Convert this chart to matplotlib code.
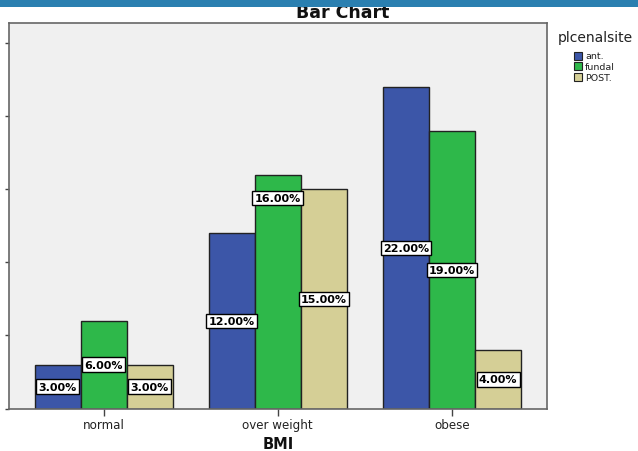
import matplotlib
matplotlib.use("Agg")
import matplotlib.pyplot as plt
from matplotlib.patches import Rectangle
import numpy as np

categories = ["normal", "over weight", "obese"]
series = ["ant.", "fundal", "POST."]
ant = [3.0, 12.0, 22.0]
fundal = [6.0, 16.0, 19.0]
post = [3.0, 15.0, 4.0]
colors = ["#3c56a8", "#2eb84a", "#d5cf96"]
yticks = [0, 5, 10, 15, 20, 25]

W, H = 638, 452
fig = plt.figure(figsize=(W / 100, H / 100), dpi=100)
fig.patch.set_facecolor("white")

def fx(px):
    return px / W

def fy(py):
    return 1 - py / H

ax = fig.add_axes([fx(9), fy(409.5), (547 - 9) / W, (409.5 - 24) / H])
ax.set_facecolor("#f0f0f0")

x = np.arange(len(categories))
width = 0.264
values = [ant, fundal, post]
box_h = 1.15  # approx label box height in data units

label_style = dict(ha="center", va="center", fontsize=8, fontweight="bold",
                   family="DejaVu Sans", color="black", zorder=5,
                   bbox=dict(boxstyle="square,pad=0.2", facecolor="white",
                             edgecolor="black", linewidth=1.0))

for i, (name, vals, col) in enumerate(zip(series, values, colors)):
    pos = x + (i - 1) * width
    ax.bar(pos, vals, width=width, color=col, edgecolor="#222222",
           linewidth=1.0, zorder=2, label=name)

# value labels: at bar middle; middle bar label moved near its top if it
# would collide with a neighbour's label
for g in range(len(categories)):
    mids = [values[i][g] / 2 for i in range(len(series))]
    ys = list(mids)
    if abs(mids[1] - mids[0]) < box_h or abs(mids[1] - mids[2]) < box_h:
        ys[1] = values[1][g] - 1.6
    for i in range(len(series)):
        v = values[i][g]
        ax.text(x[g] + (i - 1) * width, ys[i], f"{v:.2f}%", **label_style)

ax.set_xlim(-0.5425, 2.545)
ax.set_ylim(0, 26.4)
ax.set_xticks(x)
ax.set_xticklabels(categories, fontsize=8.6, family="DejaVu Sans", color="#222222")
ax.set_yticks(yticks)
ax.set_yticklabels([])
ax.tick_params(axis="x", length=5, width=1, color="#444444", pad=2.0)
ax.tick_params(axis="y", length=3, width=1, color="#444444")
for s in ax.spines.values():
    s.set_color("#666666")
    s.set_linewidth(1.2)

# title and axis label
fig.text(fx(342.5), fy(18), "Bar Chart", ha="center", va="baseline",
         fontsize=12.5, fontweight="bold", family="DejaVu Sans", color="#111111")
fig.text(fx(278), fy(449), "BMI", ha="center", va="baseline",
         fontsize=10.5, fontweight="bold", family="DejaVu Sans", color="#111111")

# top blue strip
fig.add_artist(Rectangle((0, fy(7.5)), 1, 7.5 / H, transform=fig.transFigure,
                         facecolor="#2a7fb0", edgecolor="none", zorder=10))

# legend
fig.text(fx(558), fy(42), "plcenalsite", ha="left", va="baseline",
         fontsize=10, family="DejaVu Sans", color="#222222")
for i, (name, col) in enumerate(zip(series, colors)):
    top = 52.5 + i * 10.8
    fig.add_artist(Rectangle((fx(574), fy(top + 8)), 8 / W, 8 / H,
                             transform=fig.transFigure, facecolor=col,
                             edgecolor="#222222", linewidth=0.8))
    fig.text(fx(585), fy(top + 4), name, ha="left", va="center",
             fontsize=6.8, family="DejaVu Sans", color="#222222")

fig.savefig("out.png", dpi=100)
